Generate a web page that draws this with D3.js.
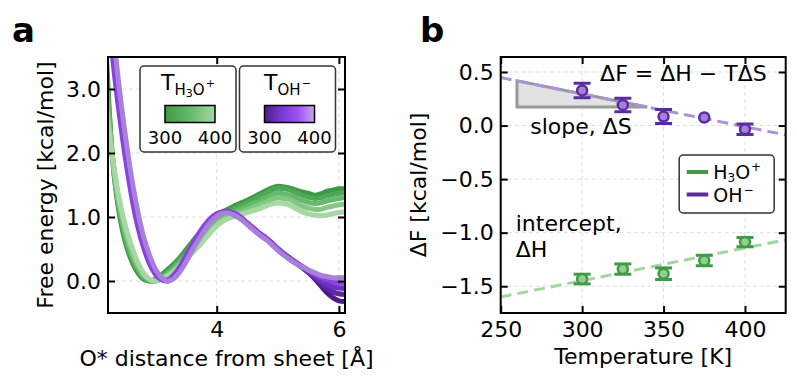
<!DOCTYPE html>
<html>
<head>
<meta charset="utf-8">
<script src="https://cdn.jsdelivr.net/npm/d3@7"></script>
<style>
  body { margin: 0; background: #fff; }
  svg { font-family: "DejaVu Sans", sans-serif; }
  .grid line { stroke: #dedede; stroke-width: 1; stroke-dasharray: 4,3; }
  .tick line { stroke: #000; stroke-width: 2; }
  .tick text { font-size: 22px; fill: #000; }
</style>
</head>
<body>
<svg id="fig" width="797" height="385"></svg>
<script>
// ---- panel a: free energy profiles ----
const distance = [2.2, 2.3, 2.4, 2.5, 2.6, 2.7, 2.8, 2.9, 3.0, 3.1,
                  3.2, 3.3, 3.4, 3.5, 3.6, 3.7, 3.8, 3.9, 4.0, 4.1,
                  4.2, 4.3, 4.4, 4.5, 4.6, 4.7, 4.8, 4.9, 5.0, 5.1,
                  5.2, 5.3, 5.4, 5.5, 5.6, 5.7, 5.8, 5.9, 6.0, 6.1]

const temps = [300, 325, 350, 375, 400]

const fH3O_300 = [3.40, 1.85, 1.08, 0.62, 0.33, 0.14, 0.03, 0.00, 0.03, 0.10,
                  0.18, 0.27, 0.37, 0.49, 0.61, 0.73, 0.84, 0.94, 1.02, 1.08,
                  1.13, 1.18, 1.22, 1.26, 1.31, 1.36, 1.41, 1.45, 1.48, 1.47,
                  1.45, 1.42, 1.39, 1.37, 1.34, 1.36, 1.40, 1.42, 1.44, 1.44]
const fH3O_325 = [3.20, 1.86, 1.13, 0.68, 0.38, 0.18, 0.05, 0.00, 0.02, 0.08,
                  0.15, 0.24, 0.34, 0.45, 0.57, 0.69, 0.80, 0.90, 0.98, 1.04,
                  1.09, 1.14, 1.18, 1.22, 1.27, 1.32, 1.37, 1.42, 1.45, 1.44,
                  1.42, 1.38, 1.34, 1.31, 1.29, 1.30, 1.33, 1.35, 1.37, 1.38]
const fH3O_350 = [3.00, 1.87, 1.18, 0.74, 0.43, 0.21, 0.07, 0.01, 0.00, 0.05,
                  0.12, 0.20, 0.30, 0.40, 0.51, 0.62, 0.73, 0.84, 0.93, 1.00,
                  1.05, 1.09, 1.13, 1.17, 1.21, 1.25, 1.30, 1.34, 1.37, 1.36,
                  1.34, 1.30, 1.26, 1.23, 1.21, 1.22, 1.25, 1.27, 1.29, 1.30]
const fH3O_375 = [2.80, 1.88, 1.24, 0.81, 0.49, 0.26, 0.10, 0.02, 0.00, 0.04,
                  0.10, 0.17, 0.26, 0.36, 0.47, 0.58, 0.69, 0.80, 0.89, 0.96,
                  1.01, 1.05, 1.08, 1.11, 1.15, 1.19, 1.23, 1.27, 1.30, 1.29,
                  1.27, 1.22, 1.17, 1.14, 1.12, 1.12, 1.15, 1.17, 1.19, 1.20]
const fH3O_400 = [2.60, 1.89, 1.30, 0.88, 0.56, 0.31, 0.13, 0.03, 0.00, 0.03,
                  0.08, 0.15, 0.24, 0.34, 0.44, 0.54, 0.65, 0.76, 0.86, 0.93,
                  0.98, 1.01, 1.04, 1.07, 1.10, 1.13, 1.17, 1.20, 1.22, 1.21,
                  1.18, 1.13, 1.08, 1.05, 1.03, 1.02, 1.03, 1.05, 1.07, 1.08]

const fOH_300 = [4.70, 3.70, 2.86, 2.14, 1.52, 1.02, 0.63, 0.34, 0.14, 0.03,
                 0.00, 0.06, 0.19, 0.35, 0.52, 0.68, 0.83, 0.95, 1.03, 1.08,
                 1.08, 1.04, 0.98, 0.90, 0.82, 0.74, 0.67, 0.59, 0.50, 0.42,
                 0.35, 0.28, 0.21, 0.13, 0.04, -0.07, -0.18, -0.26, -0.31, -0.32]
const fOH_325 = [4.65, 3.65, 2.80, 2.08, 1.47, 0.98, 0.60, 0.32, 0.13, 0.03,
                 0.01, 0.07, 0.20, 0.36, 0.53, 0.69, 0.84, 0.96, 1.04, 1.08,
                 1.08, 1.04, 0.98, 0.90, 0.82, 0.74, 0.67, 0.59, 0.50, 0.42,
                 0.35, 0.28, 0.21, 0.14, 0.06, -0.03, -0.11, -0.17, -0.20, -0.21]
const fOH_350 = [4.55, 3.57, 2.74, 2.03, 1.43, 0.94, 0.57, 0.30, 0.12, 0.02,
                 0.01, 0.08, 0.21, 0.37, 0.54, 0.70, 0.85, 0.97, 1.04, 1.08,
                 1.08, 1.05, 0.98, 0.90, 0.82, 0.74, 0.67, 0.59, 0.50, 0.42,
                 0.35, 0.28, 0.22, 0.15, 0.08, 0.01, -0.05, -0.09, -0.11, -0.12]
const fOH_375 = [4.40, 3.45, 2.64, 1.95, 1.36, 0.88, 0.53, 0.27, 0.10, 0.02,
                 0.02, 0.10, 0.23, 0.40, 0.57, 0.73, 0.87, 0.98, 1.05, 1.08,
                 1.08, 1.05, 0.99, 0.91, 0.83, 0.75, 0.68, 0.60, 0.51, 0.43,
                 0.36, 0.29, 0.23, 0.17, 0.11, 0.06, 0.02, -0.01, -0.03, -0.04]
const fOH_400 = [5.00, 3.95, 3.05, 2.30, 1.65, 1.12, 0.70, 0.40, 0.18, 0.05,
                 0.00, 0.04, 0.15, 0.30, 0.48, 0.64, 0.79, 0.92, 1.01, 1.06,
                 1.06, 1.02, 0.96, 0.88, 0.80, 0.72, 0.65, 0.57, 0.48, 0.40,
                 0.33, 0.27, 0.22, 0.17, 0.13, 0.09, 0.07, 0.05, 0.05, 0.05]

const h3oColors = ["#3c9a44", "#4fa855", "#66b86b", "#84c785", "#a5d8a2"]
const ohColors  = ["#4a1d8a", "#5c26a6", "#6f31c2", "#8b41e0", "#a87fda"]

const aXTicks = [4, 6]
const aYTicks = [0, 1, 2, 3]

// ---- panel b: free energy difference vs temperature ----
const tPoints = [300, 325, 350, 375, 400]
const dF_H3O  = [-1.433, -1.340, -1.383, -1.260, -1.088]
const err_H3O = [0.045, 0.048, 0.054, 0.049, 0.044]
const dF_OH   = [0.328, 0.193, 0.084, 0.075, -0.034]
const err_OH  = [0.068, 0.063, 0.065, 0.0, 0.049]

// fitted lines
const fitSlope     = [0.00305, -0.00306]   // H3O+, OH-
const fitIntercept = [-2.363, 1.213]
const slopeTriangleT = [260, 340]

const bXTicks = [250, 300, 350, 400]
const bYTicks = [0.5, 0, -0.5, -1, -1.5]

const svg = d3.select("#fig")
const defs = svg.append("defs")

//
// Helpers
//

function gridLines (g, x, y, xt, yt, w, h) {
  const grid = g.append("g").attr("class", "grid")
  grid.selectAll("line.v").data(xt).enter().append("line")
      .attr("class", "v")
      .attr("x1", d => x(d)).attr("x2", d => x(d))
      .attr("y1", 0).attr("y2", h)
  grid.selectAll("line.h").data(yt).enter().append("line")
      .attr("class", "h")
      .attr("x1", 0).attr("x2", w)
      .attr("y1", d => y(d)).attr("y2", d => y(d))
}

function axes (g, x, y, xt, yt, w, h, xfmt, yfmt) {
  const inner = -7
  const bottom = g.append("g").attr("transform", "translate(0," + h + ")")
      .call(d3.axisBottom(x).tickValues(xt).tickSizeInner(inner).tickSizeOuter(0)
        .tickPadding(8).tickFormat(xfmt))
  const left = g.append("g")
      .call(d3.axisLeft(y).tickValues(yt).tickSizeInner(inner).tickSizeOuter(0)
        .tickPadding(7).tickFormat(yfmt))
  const top = g.append("g")
      .call(d3.axisTop(x).tickValues(xt).tickSizeInner(inner).tickSizeOuter(0).tickFormat(""))
  const right = g.append("g").attr("transform", "translate(" + w + ",0)")
      .call(d3.axisRight(y).tickValues(yt).tickSizeInner(inner).tickSizeOuter(0).tickFormat(""))

  for (const a of [bottom, left, top, right]) {
    a.select(".domain").remove()
    a.attr("font-family", null).attr("font-size", null)
  }

  g.append("rect")
      .attr("width", w).attr("height", h)
      .attr("fill", "none")
      .attr("stroke", "#000")
      .attr("stroke-width", 2)
}

function gradient (id, stops) {
  const lg = defs.append("linearGradient").attr("id", id)
  lg.selectAll("stop").data(stops).enter().append("stop")
      .attr("offset", (d, i) => i / (stops.length - 1))
      .attr("stop-color", d => d)
}

//
// Panel a
//

const aLeft = 108, aTop = 57, aW = 237, aH = 256

const xa = d3.scaleLinear().domain([2.22, 6.1]).range([0, aW])
const ya = d3.scaleLinear().domain([-0.5, 3.5]).range([aH, 0])

const ga = svg.append("g").attr("transform", "translate(" + aLeft + "," + aTop + ")")

defs.append("clipPath").attr("id", "clipA")
  .append("rect").attr("width", aW).attr("height", aH)

gridLines(ga, xa, ya, aXTicks, aYTicks, aW, aH)

const h3oCurves = [fH3O_300, fH3O_325, fH3O_350, fH3O_375, fH3O_400]
const ohCurves  = [fOH_300, fOH_325, fOH_350, fOH_375, fOH_400]

const line = d3.line()
    .x((d, i) => xa(distance[i]))
    .y(d => ya(d))
    .curve(d3.curveCatmullRom)

const curves = ga.append("g").attr("clip-path", "url(#clipA)")

curves.selectAll("path.h3o").data(h3oCurves).enter().append("path")
    .attr("class", "h3o")
    .attr("d", line)
    .attr("fill", "none")
    .attr("stroke", (d, i) => h3oColors[i])
    .attr("stroke-width", 5)

curves.selectAll("path.oh").data(ohCurves).enter().append("path")
    .attr("class", "oh")
    .attr("d", line)
    .attr("fill", "none")
    .attr("stroke", (d, i) => ohColors[i])
    .attr("stroke-width", 5)

axes(ga, xa, ya, aXTicks, aYTicks, aW, aH, d3.format("d"), d3.format(".1f"))

// colour-bar legends
gradient("gH3O", [h3oColors[0], h3oColors[2], h3oColors[4]])
gradient("gOH", ["#4a1d8a", "#7a38d0", "#9d52f0", "#c9a2f2"])

const legA = [
  { x: 140, grad: "gH3O", sub: "H", sub3: "3", sub2: "O", sup: "+" },
  { x: 239.5, grad: "gOH", sub: "OH", sub3: "", sub2: "", sup: "\u2212" }
]

const lg = svg.selectAll("g.lega").data(legA).enter().append("g")
    .attr("class", "lega")
    .attr("transform", d => "translate(" + d.x + ",66)")

lg.append("rect")
    .attr("width", 96).attr("height", 86)
    .attr("rx", 4)
    .attr("fill", "#fff")
    .attr("stroke", "#333")
    .attr("stroke-width", 1.5)

const title = lg.append("text")
    .attr("x", 48).attr("y", 24)
    .attr("text-anchor", "middle")
    .attr("font-size", 22)
    .text("T")
title.append("tspan").attr("font-size", 15).attr("dy", 5).text(d => d.sub)
title.filter(d => d.sub3 !== "").append("tspan")
    .attr("font-size", 11).attr("dy", 2).text(d => d.sub3)
title.filter(d => d.sub2 !== "").append("tspan")
    .attr("font-size", 15).attr("dy", -2).text(d => d.sub2)
title.append("tspan").attr("font-size", 11).attr("dx", 1).attr("dy", -8).text(d => d.sup)

lg.append("rect")
    .attr("x", 25).attr("y", 39.5)
    .attr("width", 50).attr("height", 17)
    .attr("fill", d => "url(#" + d.grad + ")")
    .attr("stroke", "#000")
    .attr("stroke-width", 1.5)

lg.selectAll("text.cb").data(temps.filter((t, i) => i === 0 || i === temps.length - 1))
  .enter().append("text")
    .attr("class", "cb")
    .attr("x", (d, i) => 25 + i * 50)
    .attr("y", 78)
    .attr("text-anchor", "middle")
    .attr("font-size", 18)
    .text(d => d)

// labels
svg.append("text")
    .attr("transform", "translate(53," + (aTop + aH / 2) + ") rotate(-90)")
    .attr("text-anchor", "middle")
    .attr("font-size", 22)
    .text("Free energy [kcal/mol]")

svg.append("text")
    .attr("x", aLeft + aW / 2).attr("y", 366)
    .attr("text-anchor", "middle")
    .attr("font-size", 22)
    .text("O* distance from sheet [\u00c5]")

svg.append("text")
    .attr("x", 12).attr("y", 42)
    .attr("font-size", 34).attr("font-weight", "bold")
    .text("a")

//
// Panel b
//

const bLeft = 500.7, bTop = 57, bW = 285, bH = 256

const xb = d3.scaleLinear().domain([250, 425]).range([0, bW])
const yb = d3.scaleLinear().domain([-1.75, 0.64]).range([bH, 0])

const gb = svg.append("g").attr("transform", "translate(" + bLeft + "," + bTop + ")")

defs.append("clipPath").attr("id", "clipB")
  .append("rect").attr("width", bW).attr("height", bH)

gridLines(gb, xb, yb, bXTicks, bYTicks, bW, bH)

const fit = i => T => fitIntercept[i] + fitSlope[i] * T

// slope triangle under the OH- fit
const tri = [
  [slopeTriangleT[0], fit(1)(slopeTriangleT[0])],
  [slopeTriangleT[0], fit(1)(slopeTriangleT[1])],
  [slopeTriangleT[1], fit(1)(slopeTriangleT[1])]
]
gb.append("path")
    .attr("d", d3.line().x(d => xb(d[0])).y(d => yb(d[1]))(tri) + "Z")
    .attr("fill", "#e2e2e2")
    .attr("stroke", "#999")
    .attr("stroke-width", 3)

const series = [
  { vals: dF_H3O, errs: err_H3O, dark: "#3f9b46", light: "#8fcf8c", dash: "#a3d7a0", label: "h3o" },
  { vals: dF_OH,  errs: err_OH,  dark: "#5a2d9e", light: "#a57fd8", dash: "#ae92d6", label: "oh" }
]

const pb = gb.append("g").attr("clip-path", "url(#clipB)")

series.forEach((s, i) => {
  const f = fit(i)
  pb.append("line")
      .attr("x1", xb(250)).attr("y1", yb(f(250)))
      .attr("x2", xb(425)).attr("y2", yb(f(425)))
      .attr("stroke", s.dash)
      .attr("stroke-width", 3)
      .attr("stroke-dasharray", "11,6")
})

series.forEach(s => {
  const pts = tPoints.map((t, j) => ({ t: t, v: s.vals[j], e: s.errs[j] }))
  const eb = pb.selectAll("g.eb-" + s.label).data(pts.filter(d => d.e > 0)).enter()
    .append("g").attr("class", "eb-" + s.label)
  eb.append("line")
      .attr("x1", d => xb(d.t)).attr("x2", d => xb(d.t))
      .attr("y1", d => yb(d.v - d.e)).attr("y2", d => yb(d.v + d.e))
      .attr("stroke", s.dark).attr("stroke-width", 3)
  for (const sign of [-1, 1]) {
    eb.append("line")
        .attr("x1", d => xb(d.t) - 8.5).attr("x2", d => xb(d.t) + 8.5)
        .attr("y1", d => yb(d.v + sign * d.e)).attr("y2", d => yb(d.v + sign * d.e))
        .attr("stroke", s.dark).attr("stroke-width", 3)
  }
  pb.selectAll("circle.pt-" + s.label).data(pts).enter().append("circle")
      .attr("class", "pt-" + s.label)
      .attr("cx", d => xb(d.t)).attr("cy", d => yb(d.v))
      .attr("r", 5)
      .attr("fill", s.light)
      .attr("stroke", s.dark)
      .attr("stroke-width", 2.5)
})

axes(gb, xb, yb, bXTicks, bYTicks, bW, bH, d3.format("d"), d3.format(".1f"))

// annotations
gb.append("text")
    .attr("x", 266).attr("y", 24)
    .attr("text-anchor", "end")
    .attr("font-size", 22)
    .text("\u0394F = \u0394H \u2212 T\u0394S")

gb.append("text")
    .attr("x", 29.5).attr("y", 77)
    .attr("font-size", 22)
    .text("slope, \u0394S")

const ic = gb.append("text").attr("font-size", 22)
ic.append("tspan").attr("x", 15).attr("y", 174).text("intercept,")
ic.append("tspan").attr("x", 15).attr("y", 199.5).text("\u0394H")

// legend
const legB = gb.append("g").attr("transform", "translate(178.5,98)")
legB.append("rect")
    .attr("width", 95).attr("height", 58)
    .attr("rx", 4)
    .attr("fill", "#fff")
    .attr("stroke", "#333")
    .attr("stroke-width", 1.5)

const legItems = legB.selectAll("g.item").data(series).enter().append("g")
    .attr("class", "item")
    .attr("transform", (d, i) => "translate(0," + (17 + i * 22.5) + ")")
legItems.append("line")
    .attr("x1", 7.5).attr("x2", 29)
    .attr("stroke", d => d.dark)
    .attr("stroke-width", 4)
const lt = legItems.append("text")
    .attr("x", 34).attr("y", 7)
    .attr("font-size", 19)
lt.filter(d => d.label === "h3o").each(function () {
  const t = d3.select(this)
  t.append("tspan").text("H")
  t.append("tspan").attr("font-size", 12).attr("dy", 3).text("3")
  t.append("tspan").attr("dy", -3).text("O")
  t.append("tspan").attr("font-size", 12).attr("dx", 1).attr("dy", -8).text("+")
})
lt.filter(d => d.label === "oh").each(function () {
  const t = d3.select(this)
  t.append("tspan").text("OH")
  t.append("tspan").attr("font-size", 12).attr("dx", 1).attr("dy", -8).text("\u2212")
})

// labels
svg.append("text")
    .attr("transform", "translate(426," + (bTop + bH / 2) + ") rotate(-90)")
    .attr("text-anchor", "middle")
    .attr("font-size", 22)
    .text("\u0394F [kcal/mol]")

svg.append("text")
    .attr("x", bLeft + bW / 2).attr("y", 364)
    .attr("text-anchor", "middle")
    .attr("font-size", 22)
    .text("Temperature [K]")

svg.append("text")
    .attr("x", 420).attr("y", 42)
    .attr("font-size", 34).attr("font-weight", "bold")
    .text("b")
</script>
</body>
</html>
